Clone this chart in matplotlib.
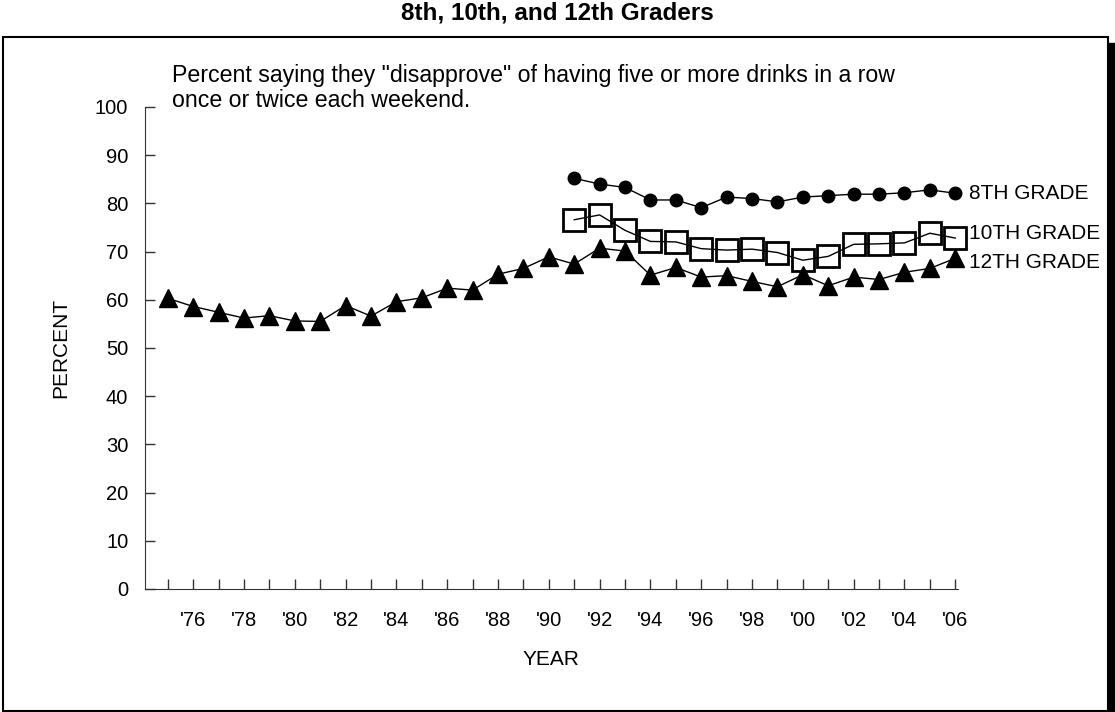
import matplotlib.pyplot as plt
from matplotlib.patches import Rectangle

plt.rcParams["font.family"] = ["Liberation Sans", "DejaVu Sans"]

years = list(range(1975, 2007))
grade12 = [60.3, 58.6, 57.4, 56.2, 56.7, 55.6, 55.5, 58.8, 56.6, 59.6, 60.4,
           62.4, 62.0, 65.3, 66.5, 68.9, 67.4, 70.7, 70.1, 65.1, 66.7, 64.7,
           65.0, 63.8, 62.7, 65.2, 62.9, 64.7, 64.2, 65.7, 66.5, 68.6]
years_8_10 = list(range(1991, 2007))
grade8 = [85.2, 84.0, 83.3, 80.7, 80.7, 79.1, 81.3, 81.0, 80.3, 81.3, 81.6,
          81.9, 81.9, 82.2, 82.8, 82.1]
grade10 = [76.6, 77.6, 74.4, 72.1, 72.0, 70.6, 70.3, 70.5, 69.8, 68.2, 69.0,
           71.5, 71.6, 71.8, 73.8, 72.8]
series_labels = ["8TH GRADE", "10TH GRADE", "12TH GRADE"]
tick_labels = ["'%02d" % (y % 100) if y % 2 == 0 else "" for y in years]

fig = plt.figure(figsize=(11.15, 7.12), dpi=100)
ax = fig.add_axes([0.130, 0.1728, 0.729, 0.677])

# markers sit on the last year, so no clipping at the right edge
ax.plot(years, grade12, color="black", lw=1, marker="^", ms=13, mfc="black", mec="black",
        clip_on=False)
ax.plot(years_8_10, grade10, color="black", lw=1, marker="s", ms=16, mfc="none",
        mec="black", mew=2, clip_on=False)
ax.plot(years_8_10, grade8, color="black", lw=1, marker="o", ms=9, mfc="black", mec="black",
        clip_on=False)

ax.set_xlim(1974.1, 2006.1)
ax.set_ylim(0, 100)
ax.set_yticks(range(0, 101, 10))
ax.set_xticks(years)
ax.set_xticklabels(tick_labels)
ax.tick_params(axis="both", direction="in", length=7, width=1, labelsize=14.5, color="#333333")
ax.tick_params(axis="x", pad=16)
ax.tick_params(axis="y", pad=12)
for side in ["top", "right"]:
    ax.spines[side].set_visible(False)
for side in ["left", "bottom"]:
    ax.spines[side].set_color("#333333")
ax.set_xlabel("YEAR", fontsize=15, labelpad=14)
ax.set_ylabel("PERCENT", fontsize=15, labelpad=18)

label_nudge = [0, 3, -3]
for lab, val, dy in zip(series_labels, [grade8[-1], grade10[-1], grade12[-1]], label_nudge):
    ax.annotate(lab, (2006, val), xytext=(10, dy), textcoords="offset points",
                fontsize=15, va="center", ha="left", annotation_clip=False)

fig.text(172 / 1115, 1 - 88 / 712,
         'Percent saying they "disapprove" of having five or more drinks in a row\n'
         'once or twice each weekend.',
         fontsize=16.7, va="center", ha="left", linespacing=1.1)

fig.text(0.5, 1 - 13 / 712, "8th, 10th, and 12th Graders", fontsize=17.5,
         fontweight="bold", ha="center", va="center")

# frame with drop shadow on the right
fig.patches.append(Rectangle((1108 / 1115, 0), 7 / 1115, 1 - 43 / 712,
                             transform=fig.transFigure, color="black", zorder=0))
fig.patches.append(Rectangle((3 / 1115, 1 / 712), 1105 / 1115, 1 - 38 / 712,
                             transform=fig.transFigure, fill=False, ec="black", lw=1.5))

plt.savefig("out.png", dpi=100)
plt.close()
